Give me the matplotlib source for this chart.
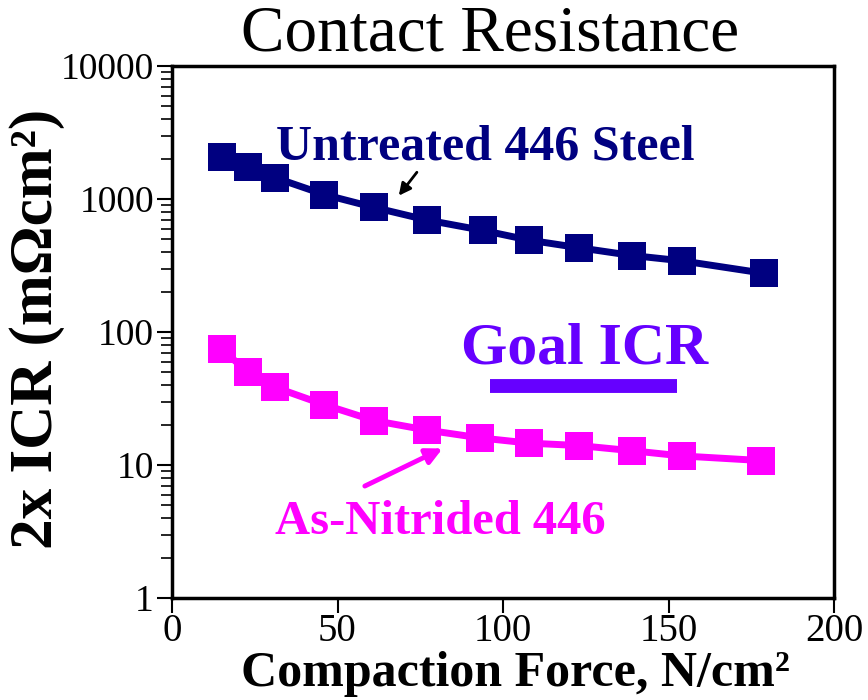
import matplotlib
matplotlib.use("Agg")
import matplotlib.pyplot as plt
from matplotlib.ticker import LogLocator, FixedLocator, NullFormatter

# Data
force_untreated = [15, 23, 31, 46, 61, 77, 94, 108, 123, 139, 154, 179]
icr_untreated = [2080, 1750, 1450, 1080, 865, 695, 580, 490, 430, 376, 343, 276]
force_nitrided = [15, 23, 31, 46, 61, 77, 93, 108, 123, 139, 154, 178]
icr_nitrided = [74, 50, 38.5, 28.4, 21.6, 18.3, 16.0, 14.6, 14.0, 12.8, 11.7, 10.8]
goal_x = [96, 152.5]
goal_y = [39, 39]
x_ticks = [0, 50, 100, 150, 200]
y_ticks = [1, 10, 100, 1000, 10000]
y_ticklabels = ["1", "10", "100", "1000", "10000"]

serif = "Liberation Serif"
navy = "#000080"
magenta = "#FF00FF"
purple = "#6600FF"

fig = plt.figure(figsize=(8.68, 7.0), dpi=100)
ax = fig.add_axes([172/868, 1-598/700, (834-172)/868, (598-66)/700])

ax.plot(force_untreated, icr_untreated, color=navy, lw=5, marker="s",
        markersize=20, markeredgewidth=0, solid_joinstyle="round")
ax.plot(force_nitrided, icr_nitrided, color=magenta, lw=5, marker="s",
        markersize=20, markeredgewidth=0, solid_joinstyle="round")
ax.plot(goal_x, goal_y, color=purple, lw=10, solid_capstyle="butt")

ax.set_yscale("log")
ax.set_xlim(0, 200)
ax.set_ylim(1, 10000)
ax.xaxis.set_major_locator(FixedLocator(x_ticks))
ax.set_xticklabels([str(t) for t in x_ticks], fontsize=28, family=serif)
ax.yaxis.set_major_locator(FixedLocator(y_ticks))
ax.set_yticklabels(y_ticklabels, fontsize=27, family=serif)
ax.yaxis.set_minor_locator(LogLocator(base=10, subs=range(2, 10)))
ax.yaxis.set_minor_formatter(NullFormatter())
ax.tick_params(axis="both", which="major", direction="out", length=11, width=1.5, pad=2)
ax.tick_params(axis="x", which="major", pad=0)
ax.tick_params(axis="y", which="minor", direction="out", length=8, width=1.2)
ax.tick_params(axis="x", which="minor", length=0)
for s in ax.spines.values():
    s.set_linewidth(2.5)

fig.text(490/868, 1-35/700, "Contact Resistance", fontsize=47, family=serif,
         ha="center", va="center")
fig.text(515/868, 3/700, "Compaction Force, N/cm²", fontsize=36, family=serif,
         fontweight="bold", ha="center", va="bottom")
fig.text(37/868, 1-329/700, "2x ICR (mΩcm²)", fontsize=44, family=serif,
         fontweight="bold", ha="center", va="center", rotation=90)

fig.text(485/868, 1-147/700, "Untreated 446 Steel", fontsize=36, family=serif,
         fontweight="bold", color=navy, ha="center", va="center")
fig.text(585/868, 1-349/700, "Goal ICR", fontsize=43, family=serif,
         fontweight="bold", color=purple, ha="center", va="center")
fig.text(440/868, 1-522/700, "As-Nitrided 446", fontsize=35, family=serif,
         fontweight="bold", color=magenta, ha="center", va="center")

ax.annotate("", xy=(68, 1020), xytext=(74.5, 1650),
            arrowprops=dict(arrowstyle="-|>", color="black", lw=2, mutation_scale=18))
ax.annotate("", xy=(82.5, 13.6), xytext=(57.5, 6.8),
            arrowprops=dict(arrowstyle="-|>", color=magenta, lw=3.5, mutation_scale=24))

fig.savefig("out.png", dpi=100)
